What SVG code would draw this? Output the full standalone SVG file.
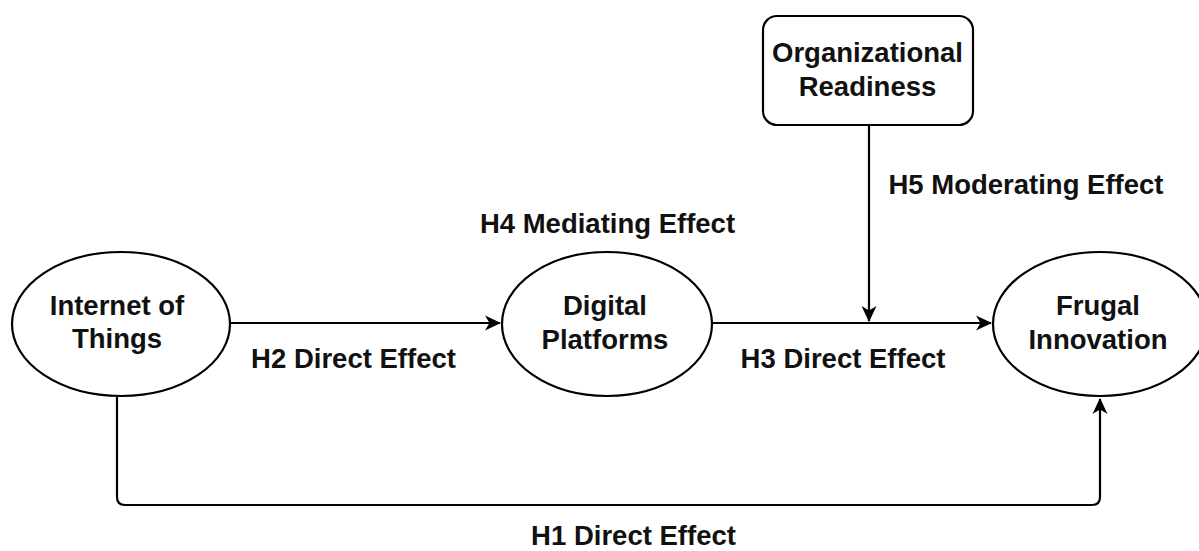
<svg xmlns="http://www.w3.org/2000/svg" width="1199" height="551" viewBox="0 0 1199 551">
  <defs>
    <marker id="arrow" viewBox="0 0 16 16" refX="15" refY="8" markerWidth="16" markerHeight="16" markerUnits="userSpaceOnUse" orient="auto">
      <path d="M0,0.5 L16,8 L0,15.5 L4.5,8 Z" fill="#000"/>
    </marker>
    <style>
      .shape { fill: #fff; stroke: #000; stroke-width: 2.2; }
      .edge { fill: none; stroke: #000; stroke-width: 2.2; }
      .txt { font-family: "Liberation Sans", Arial, sans-serif; font-weight: bold; font-size: 27.5px; fill: #111; text-anchor: middle; }
    </style>
  </defs>
  <rect width="1199" height="551" fill="#fff"/>
  <g id="connectors">
    <path class="edge" d="M230,323 L500,323" marker-end="url(#arrow)"/>
    <path class="edge" d="M712,323 L991,323" marker-end="url(#arrow)"/>
    <path class="edge" d="M869,125 L869,321" marker-end="url(#arrow)"/>
    <path class="edge" d="M117,397 L117,497 Q117,505 125,505 L1092,505 Q1100,505 1100,497 L1100,399" marker-end="url(#arrow)"/>
  </g>
  <g id="edge-labels">
    <text class="txt" x="353.5" y="368">H2 Direct Effect</text>
    <text class="txt" x="843" y="368">H3 Direct Effect</text>
    <text class="txt" x="607.5" y="233">H4 Mediating Effect</text>
    <text class="txt" x="1026" y="194">H5 Moderating Effect</text>
    <text class="txt" x="633.5" y="545">H1 Direct Effect</text>
  </g>
  <g id="node-iot">
    <ellipse class="shape" cx="121" cy="324" rx="109" ry="72"/>
    <text class="txt" x="117" y="315">Internet of</text>
    <text class="txt" x="117" y="348">Things</text>
  </g>
  <g id="node-dp">
    <ellipse class="shape" cx="607" cy="324" rx="105" ry="72"/>
    <text class="txt" x="605" y="315">Digital</text>
    <text class="txt" x="605" y="349">Platforms</text>
  </g>
  <g id="node-fi">
    <ellipse class="shape" cx="1100" cy="324" rx="107" ry="72"/>
    <text class="txt" x="1098" y="315">Frugal</text>
    <text class="txt" x="1098" y="349">Innovation</text>
  </g>
  <g id="node-or">
    <rect class="shape" x="763" y="16" width="210" height="109" rx="14" ry="14"/>
    <text class="txt" x="867.5" y="62">Organizational</text>
    <text class="txt" x="867.5" y="96">Readiness</text>
  </g>
</svg>
